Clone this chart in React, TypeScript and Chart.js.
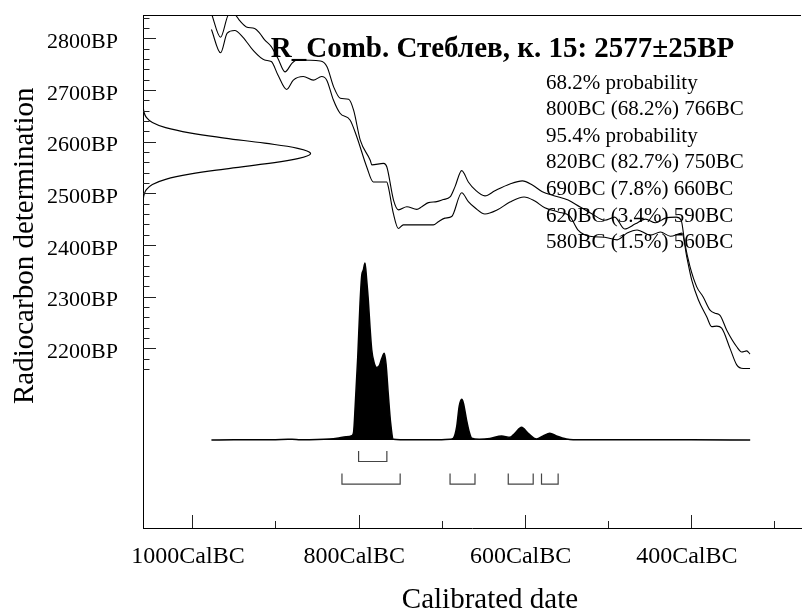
import React, { useEffect, useRef } from "react";
import { Chart, registerables } from "chart.js";

Chart.register(...registerables);

const FONT = '"Liberation Serif", "Times New Roman", "DejaVu Serif", serif';

// ---- Calibration curve envelope (years BC, radiocarbon BP) ----
const calUpperBC = [977, 966, 956, 949, 943, 935, 925, 919, 913, 905, 897, 888.5, 880, 874, 846, 838, 830, 822, 812, 806, 798, 786, 784, 770, 766, 758, 752, 742, 730, 724, 716, 706, 698, 690, 684, 676, 668, 660, 648, 636, 618, 603, 591, 579, 564, 548, 534, 519, 504, 492, 480, 467, 455, 443, 431, 418, 412, 407.6, 401.4, 393.3, 385.7, 377.3, 371.3, 365.3, 357.2, 345.2, 339.2, 333.2, 329.2];
const calUpperBP = [2848, 2802, 2846, 2846, 2834, 2822, 2819, 2810, 2797, 2784, 2761, 2735, 2752, 2758, 2756, 2745, 2706, 2684, 2682, 2661, 2603, 2564, 2555, 2558, 2551, 2487, 2468, 2474, 2469, 2474, 2482, 2484, 2488, 2493, 2513, 2544, 2522, 2507, 2495, 2505, 2518, 2524, 2516, 2503, 2495, 2487, 2474, 2460, 2448, 2454, 2431, 2441, 2450, 2443, 2452, 2454, 2448, 2403, 2358, 2319, 2300, 2274, 2268, 2264, 2235, 2203, 2193, 2195, 2189];
const calLowerBC = [977, 966, 958, 949, 939, 927, 913, 905, 897, 886.5, 878.5, 866.5, 854.5, 844.4, 838.3, 830.4, 822.3, 810.3, 802.3, 790.2, 782.3, 766.2, 764.3, 758.2, 752.2, 746.2, 710.1, 704.1, 696.1, 688, 676, 668, 660, 648, 633, 618, 601, 588, 576, 560, 546, 536, 522, 504, 489, 477, 465, 449, 437, 425, 411, 405.3, 399.3, 391.4, 381.3, 375.3, 369.3, 363.3, 353.3, 345.2, 337.3, 329.2];
const calLowerBP = [2817, 2772, 2810, 2815, 2802, 2777, 2758, 2755, 2729, 2701, 2719, 2726, 2719, 2726, 2719, 2681, 2655, 2642, 2610, 2551, 2522, 2522, 2513, 2461, 2432, 2439, 2439, 2445, 2452, 2455, 2501, 2484, 2472, 2460, 2468, 2483, 2493, 2485, 2472, 2464, 2456, 2429, 2417, 2415, 2410, 2423, 2429, 2419, 2425, 2417, 2423, 2377, 2332, 2294, 2261, 2242, 2243, 2239, 2200, 2168, 2161, 2161];

// ---- Radiocarbon determination (shown on the y axis) ----
const sampleName = "R_Comb. Стеблев, к. 15";
const dateBP = 2577;
const dateErr = 25;
const gaussBP = [2477, 2487, 2497, 2507, 2517, 2527, 2537, 2547, 2557, 2567, 2577, 2587, 2597, 2607, 2617, 2627, 2637, 2647, 2657, 2667, 2677];
const gaussDensity = [0.0003, 0.0015, 0.006, 0.02, 0.056, 0.135, 0.278, 0.487, 0.726, 0.923, 1, 0.923, 0.726, 0.487, 0.278, 0.135, 0.056, 0.02, 0.006, 0.0015, 0.0003];

// ---- Calibrated probability distribution (years BC, relative probability) ----
const postBC = [977, 950, 900, 885, 880, 870, 850, 835, 826, 815, 808, 806, 804, 801, 798.3, 796.2, 794.3, 792.3, 790.2, 788.3, 786.3, 784.2, 781.5, 778.2, 775.1, 772.2, 769.1, 767, 764.3, 761.4, 758.2, 750, 700, 690, 686, 682, 679, 676, 674, 670, 667, 664, 655, 642, 628, 618, 612, 604, 596, 586, 578, 570, 562, 550, 542, 500, 450, 400, 329];
const postProb = [0, 0.001, 0.002, 0.004, 0.004, 0.002, 0.003, 0.006, 0.01, 0.018, 0.025, 0.045, 0.2, 0.47, 0.77, 0.93, 0.96, 1.0, 0.9, 0.79, 0.64, 0.51, 0.44, 0.41, 0.42, 0.46, 0.49, 0.43, 0.26, 0.094, 0.004, 0.002, 0.002, 0.004, 0.01, 0.075, 0.19, 0.23, 0.21, 0.11, 0.047, 0.01, 0.004, 0.008, 0.023, 0.015, 0.038, 0.072, 0.038, 0.006, 0.023, 0.038, 0.023, 0.006, 0.002, 0.002, 0.001, 0.001, 0];

// ---- Ranges ----
const range68 = [[800, 766]];
const pct68 = [68.2];
const range95 = [[820, 750], [690, 660], [620, 590], [580, 560]];
const pct95 = [82.7, 7.8, 3.4, 1.5];

// ---- Axis ticks ----
const xTickBC = [1000, 800, 600, 400];
const xMinorTickBC = [1000, 900, 800, 700, 600, 500, 400, 300];
const yTickBP = [2200, 2300, 2400, 2500, 2600, 2700, 2800];
const yMinorStart = 2160;
const yMinorEnd = 2840;
const yMinorStep = 20;

// ---- Layout constants (data units) ----
const X_MIN = -1059.3;
const X_MAX = -267.9;
const Y_MIN = 1852.3;
const Y_MAX = 2845.1;
const POST_BASE = 2022.6;
const POST_SCALE = 342.6;
const GAUSS_SCALE = 201.6;
const BR68 = [2001.3, 1981];
const BR95 = [1957.7, 1937.4];

function bracketPoints(ranges: number[][], lev: number[]) {
  const pts: any[] = [];
  ranges.forEach(([a, b]) => {
    pts.push({ x: -a, y: lev[0] }, { x: -a, y: lev[1] }, { x: -b, y: lev[1] }, { x: -b, y: lev[0] }, { x: -b, y: null });
  });
  return pts;
}

const oxcalPlugin = {
  id: "oxcalDecor",
  afterDraw(chart: any) {
    const { ctx, chartArea } = chart;
    const xs = chart.scales.x;
    const ys = chart.scales.y;
    ctx.save();
    ctx.strokeStyle = "#000";
    ctx.lineWidth = 1;
    // top frame line
    ctx.beginPath();
    ctx.moveTo(chartArea.left, Math.round(chartArea.top) + 0.5);
    ctx.lineTo(chartArea.right, Math.round(chartArea.top) + 0.5);
    ctx.stroke();
    // y ticks (inward)
    ctx.strokeStyle = "#222";
    for (let v = yMinorStart; v <= yMinorEnd; v += yMinorStep) {
      const py = Math.round(ys.getPixelForValue(v)) + 0.5;
      const len = v % 100 === 0 ? 13 : 6.5;
      ctx.beginPath();
      ctx.moveTo(chartArea.left, py);
      ctx.lineTo(chartArea.left + len, py);
      ctx.stroke();
    }
    // x ticks (inward)
    xMinorTickBC.forEach((bc) => {
      const px = Math.round(xs.getPixelForValue(-bc)) + 0.5;
      const len = xTickBC.includes(bc) ? 13 : 7;
      ctx.beginPath();
      ctx.moveTo(px, chartArea.bottom);
      ctx.lineTo(px, chartArea.bottom - len);
      ctx.stroke();
    });
    // texts
    ctx.fillStyle = "#000";
    ctx.textBaseline = "alphabetic";
    ctx.font = `bold 29px ${FONT}`;
    ctx.textAlign = "center";
    ctx.fillText(`${sampleName}: ${dateBP}±${dateErr}BP`, 502.5, 56.7);

    const lines: string[] = [];
    lines.push("68.2% probability");
    range68.forEach((r, i) => lines.push(`${r[0]}BC (${pct68[i]}%) ${r[1]}BC`));
    lines.push("95.4% probability");
    range95.forEach((r, i) => lines.push(`${r[0]}BC (${pct95[i]}%) ${r[1]}BC`));
    ctx.font = `21px ${FONT}`;
    ctx.textAlign = "left";
    lines.forEach((t, i) => ctx.fillText(t, 546, 88.5 + i * 26.6));

    // axis titles
    ctx.font = `29px ${FONT}`;
    ctx.textAlign = "center";
    ctx.fillText("Calibrated date", 490, 608);
    ctx.save();
    ctx.translate(33, 245.8);
    ctx.rotate(-Math.PI / 2);
    ctx.fillText("Radiocarbon determination", 0, 0);
    ctx.restore();
    ctx.restore();
  },
};

export default function App() {
  const ref = useRef<HTMLCanvasElement | null>(null);
  useEffect(() => {
    if (!ref.current) return;
    const upper = calUpperBC.map((bc, i) => ({ x: -bc, y: calUpperBP[i] }));
    const lower = calLowerBC.map((bc, i) => ({ x: -bc, y: calLowerBP[i] }));
    const post = postBC.map((bc, i) => ({ x: -bc, y: POST_BASE + postProb[i] * POST_SCALE }));
    const gauss = gaussBP.map((bp, i) => ({ x: X_MIN + gaussDensity[i] * GAUSS_SCALE, y: bp }));
    const chart = new Chart(ref.current, {
      type: "line",
      data: {
        datasets: [
          {
            data: post,
            borderColor: "#000",
            backgroundColor: "#000",
            borderWidth: 1.5,
            pointRadius: 0,
            fill: { value: POST_BASE },
            cubicInterpolationMode: "monotone",
          },
          {
            data: gauss,
            borderColor: "#000",
            borderWidth: 1.2,
            pointRadius: 0,
            fill: false,
            tension: 0.4,
          },
          {
            data: upper,
            borderColor: "#000",
            borderWidth: 1.1,
            pointRadius: 0,
            fill: false,
            cubicInterpolationMode: "monotone",
          },
          {
            data: lower,
            borderColor: "#000",
            borderWidth: 1.1,
            pointRadius: 0,
            fill: false,
            cubicInterpolationMode: "monotone",
          },
          {
            data: bracketPoints(range68, BR68),
            borderColor: "#444",
            borderWidth: 1.2,
            pointRadius: 0,
            fill: false,
            tension: 0,
            spanGaps: false,
          },
          {
            data: bracketPoints(range95, BR95),
            borderColor: "#444",
            borderWidth: 1.2,
            pointRadius: 0,
            fill: false,
            tension: 0,
            spanGaps: false,
          },
        ] as any,
      },
      options: {
        animation: false,
        responsive: false,
        devicePixelRatio: 1,
        parsing: true as any,
        layout: { padding: { top: 15, right: 1, left: 0, bottom: 0 } },
        plugins: {
          legend: { display: false },
          tooltip: { enabled: false },
          title: { display: false },
        },
        scales: {
          x: {
            type: "linear",
            position: "bottom",
            min: X_MIN,
            max: X_MAX,
            afterBuildTicks: (s: any) => {
              s.ticks = xTickBC.map((v) => ({ value: -v }));
            },
            afterFit: (s: any) => {
              s.height = 83;
              s.paddingLeft = 0;
              s.paddingRight = 0;
              s.paddingTop = 0;
              s.paddingBottom = 0;
            },
            grid: { display: true, drawOnChartArea: false, drawTicks: false },
            border: { display: true, color: "#000", width: 1 },
            ticks: {
              autoSkip: false,
              maxRotation: 0,
              minRotation: 0,
              padding: 14,
              labelOffset: -4.3,
              color: "#000",
              font: { family: FONT, size: 24 },
              callback: (v: any) => `${-Number(v)}CalBC`,
            },
          },
          y: {
            type: "linear",
            position: "left",
            min: Y_MIN,
            max: Y_MAX,
            afterBuildTicks: (s: any) => {
              s.ticks = yTickBP.map((v) => ({ value: v }));
            },
            afterFit: (s: any) => {
              s.width = 143;
              s.paddingLeft = 0;
              s.paddingRight = 0;
              s.paddingTop = 0;
              s.paddingBottom = 0;
            },
            grid: { display: true, drawOnChartArea: false, drawTicks: false },
            border: { display: true, color: "#000", width: 1 },
            ticks: {
              autoSkip: false,
              padding: 25,
              labelOffset: 4,
              color: "#000",
              font: { family: FONT, size: 22 },
              callback: (v: any) => `${v}BP`,
            },
          },
        },
      } as any,
      plugins: [oxcalPlugin],
    });
    return () => chart.destroy();
  }, []);
  return (
    <div style={{ position: "absolute", left: 0, top: 0, width: 802, height: 611, background: "#fff" }}>
      <canvas ref={ref} width={802} height={611} style={{ display: "block", width: 802, height: 611 }} />
    </div>
  );
}
